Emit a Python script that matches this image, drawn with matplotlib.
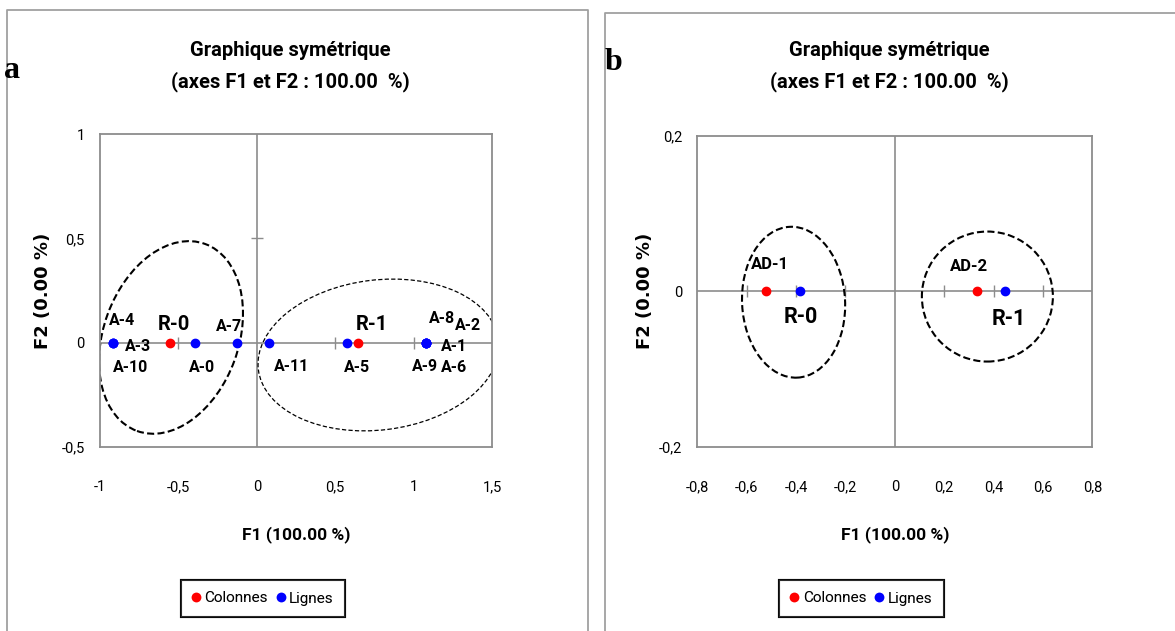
import matplotlib
matplotlib.use("Agg")
import matplotlib.pyplot as plt
from matplotlib import font_manager as fm
from matplotlib.patches import Ellipse
from matplotlib.lines import Line2D
import matplotlib.transforms as mtransforms

# ---------------- data ----------------
# Panel a
a_col_labels = ["R-0", "R-1"]
a_col_x = [-0.554, 0.647]
a_col_y = [0.0, 0.0]
a_row_labels = ["A-4", "A-3", "A-10", "A-0", "A-7", "A-11", "A-5", "A-8", "A-2", "A-1", "A-9", "A-6"]
a_row_x = [-0.919, -0.919, -0.919, -0.394, -0.124, 0.080, 0.575, 1.077, 1.077, 1.077, 1.077, 1.077]
a_row_y = [0.0] * 12
a_xticks = [-1, -0.5, 0, 0.5, 1, 1.5]
a_yticks = [-0.5, 0, 0.5, 1]

# Panel b
b_col_labels = ["AD-1", "AD-2"]
b_col_x = [-0.522, 0.331]
b_col_y = [0.0, 0.0]
b_row_labels = ["R-0", "R-1"]
b_row_x = [-0.382, 0.448]
b_row_y = [0.0, 0.0]
b_xticks = [-0.8, -0.6, -0.4, -0.2, 0, 0.2, 0.4, 0.6, 0.8]
b_yticks = [-0.2, 0, 0.2]

# ---------------- style ----------------
W, H = 1175, 631
DPI = 100
avail = {f.name for f in fm.fontManager.ttflist}
narrow = [f for f in ["Liberation Sans Narrow", "Roboto", "DejaVu Sans"] if f in avail]
plt.rcParams["font.family"] = narrow
GRAY = "#8c8c8c"

fig = plt.figure(figsize=(W / DPI, H / DPI), dpi=DPI)


def fx(x):
    return x / W


def fy(y):
    return 1 - y / H


def make_axes(l, t, r, b):
    return fig.add_axes([fx(l), fy(b), fx(r) - fx(l), fy(t) - fy(b)])


def fmt(v):
    return ("%g" % v).replace(".", ",")


def setup(ax, xlim, ylim, xticks, yticks, xcross, ycross):
    ax.set_xlim(*xlim)
    ax.set_ylim(*ylim)
    ax.set_xticks(xticks)
    ax.set_yticks(yticks)
    ax.set_xticklabels([fmt(v) for v in xticks], fontsize=10.5)
    ax.set_yticklabels([fmt(v) for v in yticks], fontsize=10.5)
    ax.tick_params(axis="x", length=0, pad=24)
    ax.tick_params(axis="y", length=0, pad=11)
    for s in ax.spines.values():
        s.set_color(GRAY)
        s.set_linewidth(1.3)
    ax.axhline(0, color=GRAY, lw=1.2, zorder=1)
    ax.axvline(0, color=GRAY, lw=1.2, zorder=1)
    ax.plot(xcross, [0] * len(xcross), ls="none", marker="|", ms=8, mew=1.0, color=GRAY, zorder=1)
    ax.plot([0] * len(ycross), ycross, ls="none", marker="_", ms=8, mew=1.0, color=GRAY, zorder=1)


def ellipse(ax, cx, cy, w_px, h_px, angle, lw, dash):
    tr = fig.dpi_scale_trans + mtransforms.ScaledTranslation(cx, cy, ax.transData)
    e = Ellipse((0, 0), w_px / DPI, h_px / DPI, angle=angle, transform=tr,
                fill=False, ec="black", lw=lw, linestyle=(0, dash), zorder=2)
    ax.add_patch(e)


def labels(ax, names, xs, ys, offs, size):
    for n, x, y in zip(names, xs, ys):
        dx, dy = offs[n]
        ax.annotate(n, (x, y), xytext=(dx, dy), textcoords="offset pixels",
                    ha="center", va="center", fontsize=size, fontweight="bold", zorder=4)


# ---------------- frames ----------------
fig.add_artist(Line2D([fx(7), fx(7), fx(587.7), fx(587.7)], [fy(631), fy(10), fy(10), fy(631)],
                      color="#a0a0a0", lw=1.3))
fig.add_artist(Line2D([fx(605), fx(605), fx(1175)], [fy(631), fy(12.7), fy(12.7)],
                      color="#a0a0a0", lw=1.3))

# ---------------- panel a ----------------
axa = make_axes(100, 134, 492, 447)
setup(axa, (-1, 1.5), (-0.5, 1), a_xticks, a_yticks, [-0.5, 0.5, 1], [0.5])
axa.plot(a_row_x, a_row_y, ls="none", marker="o", ms=6, color="#0000ff", zorder=3)
axa.plot(a_col_x, a_col_y, ls="none", marker="o", ms=6, color="#ff0000", zorder=3)
a_offs = {"A-4": (9, 22), "A-3": (25, -4), "A-10": (18, -25), "A-0": (7, -25), "A-7": (-8, 16),
          "A-11": (22, -24), "A-5": (10, -25), "A-8": (16, 24), "A-2": (42, 17), "A-1": (28, -4),
          "A-9": (-1, -24), "A-6": (28, -25), "R-0": (4, 18), "R-1": (14, 18)}
labels(axa, a_row_labels, a_row_x, a_row_y, a_offs, 11.5)
labels(axa, a_col_labels, a_col_x, a_col_y, a_offs, 14.5)
ellipse(axa, -0.547, 0.025, 135, 199, -20, 1.5, (3.4, 1.6))
ellipse(axa, 0.776, -0.059, 242, 150, 7, 0.9, (3.4, 1.8))

# ---------------- panel b ----------------
axb = make_axes(697.3, 136, 1092.3, 446.7)
setup(axb, (-0.8, 0.8), (-0.2, 0.2), b_xticks, b_yticks, [-0.6, -0.4, -0.2, 0.2, 0.4, 0.6], [])
axb.plot(b_row_x, b_row_y, ls="none", marker="o", ms=6, color="#0000ff", zorder=3)
axb.plot(b_col_x, b_col_y, ls="none", marker="o", ms=6, color="#ff0000", zorder=3)
b_offs = {"AD-1": (4, 27), "AD-2": (-8, 25), "R-0": (0, -26), "R-1": (3, -28)}
labels(axb, b_col_labels, b_col_x, b_col_y, b_offs, 12)
labels(axb, b_row_labels, b_row_x, b_row_y, b_offs, 15.5)
ellipse(axb, -0.41, -0.014, 103, 151, 3, 1.5, (3.4, 1.6))
ellipse(axb, 0.375, -0.0067, 131, 130, 0, 1.5, (3.4, 1.6))

# ---------------- texts ----------------
for cx in (296, 895):
    fig.text(fx(cx - 6), fy(50), "Graphique symétrique", ha="center", va="center",
             fontsize=14.5, fontweight="bold")
    fig.text(fx(cx - 6), fy(82), "(axes F1 et F2 : 100.00  %)", ha="center", va="center",
             fontsize=14.5, fontweight="bold")
    fig.text(fx(cx), fy(535), "F1 (100.00 %)", ha="center", va="center",
             fontsize=12.5, fontweight="bold")

fig.text(fx(43), fy(291), "F2 (0.00 %)", rotation=90, ha="center", va="center",
         fontsize=13, fontweight="bold", family="DejaVu Sans")
fig.text(fx(645), fy(291), "F2 (0.00 %)", rotation=90, ha="center", va="center",
         fontsize=13, fontweight="bold", family="DejaVu Sans")

serif = [f for f in ["Liberation Serif", "DejaVu Serif"] if f in avail]
fig.text(fx(4), fy(70), "a", ha="left", va="center", fontsize=23, fontweight="bold", family=serif)
fig.text(fx(605), fy(63), "b", ha="left", va="center", fontsize=23, fontweight="bold", family=serif)

# ---------------- legends ----------------
handles = [Line2D([], [], ls="none", marker="o", ms=6, color="#ff0000"),
           Line2D([], [], ls="none", marker="o", ms=6, color="#0000ff")]
for cx in (263, 861.5):
    leg = fig.legend(handles, ["Colonnes", "Lignes"], loc="center",
                     bbox_to_anchor=(fx(cx), fy(598.5)), ncol=2, frameon=True,
                     fancybox=False, fontsize=11, handlelength=0.5, handletextpad=0.3,
                     columnspacing=0.6, borderpad=0.75, borderaxespad=0, edgecolor="black")
    leg.get_frame().set_linewidth(1.5)
    fig.add_artist(leg)

fig.savefig("out.png", dpi=DPI)
